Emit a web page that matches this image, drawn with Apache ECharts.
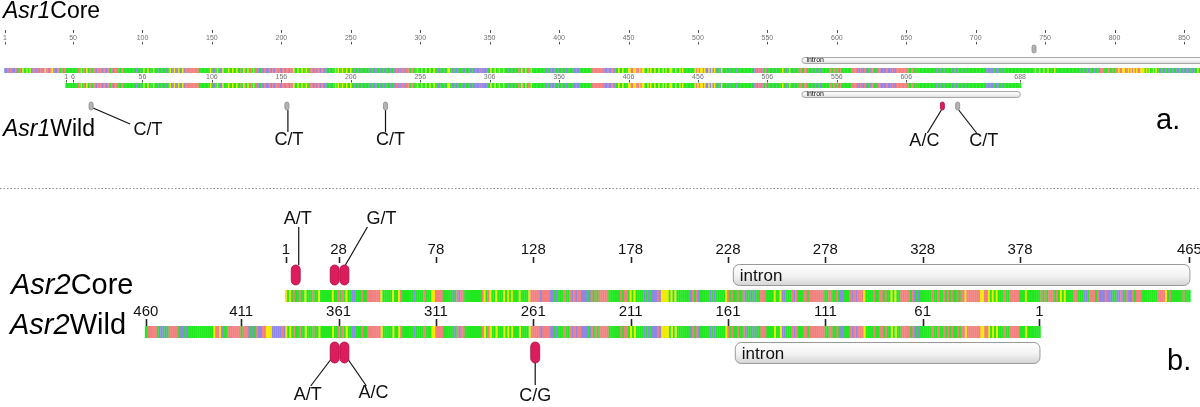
<!DOCTYPE html>
<html><head><meta charset="utf-8">
<script src="https://cdn.jsdelivr.net/npm/echarts@6/dist/echarts.min.js"></script>
<style>html,body{margin:0;padding:0;background:#fff}#c{width:1200px;height:407px}</style>
</head><body><div id="c"></div>
<script>
// ================= DATA =================
const baseOrder = ['A','C','G','T'];

// Asr1 core sequence (groups of 10, read left to right from the picture)
const asr1CoreSeq = `
CCACACCCAC TATGTTGTGT CACCACAACG AACAGACCAA TATATTTTTT
TTTATGTATG TAATAACAAA CAACAATACA AATTAATTTT TTTTCCTCTT
GTTGCTTGTT TCTTCTCTTG CCGCCGCTGC AAAAAAAAAA TTTTTTTTGT
CCTGTCCGTT TGTTGTTGTT ATGATGTATG TACCTCCACC CACACAAACC
AACAACAAGT TGTTGTTGTT AACACAACAA CTCTTCTTGT GTTGTTGTTG
TTCTTCTTCT TCTCTTCTCT CCTCCTTCCT CCACACAACA AATAATTGTT
GTTGTTGTTG TTCCTTCTTG GTCCTCCTTT CCTTTCCTCC CCCACCCCTC
GTTGTTGTTG TTTCTTCTTT ATGATGTATG TTTTTTTTTT CTTCCTCTTC
TTCTCCTTCT CCCCTTTTTT TTTAAAAAAA AACCACCAAC TTGTTGTTTG
GAAGGAAGAG GTTGTGTTGT TGTTGTGTTG GTTGTTGTGT TTTTTTTGAG
AGGAGCCGCG CGCTTCGTTC TTCTTTTCTT TTTTTTTTTC CACAACATAC
TTCTTCTTTT GTTCTGTTCT TTAATTAATT TCTTCTTCTT TTTTAATAAT
ATATTTTTTT AAAACCACCA CTTCAATCTA ACCCCACCCA CCAAAAAAAA
ATTAATTATT TTTTTTTTTT TCTTCTTCTT TTCTTCTTTT CTTCTTTTTT
TTTTTTTCCT CCTTCCTTCT TTTTTTTTTT TTTTTTTTTT TTGTTGTTGT
TGTTTTGTTT TTTTTTTTTT TTTTCTTCTT CCTTCCTTCA AATTAATTAT
AAGAAGGAAG AGAGAGAAGG GTGTGTTGTG TTCTTCTTCT TCTTCCTTCT
CCCTTCCTTG TT`.replace(/\s+/g, '');
const asr1WildAlignedCorePos = 45;   // core position aligned with wild position 1
const asr1WildLength = 688;
const asr1CoreTicks = [1,50,100,150,200,250,300,350,400,450,500,550,600,650,700,750,800,850];
const asr1WildTicks = [1,6,56,106,156,206,256,306,356,406,456,506,556,606,688];
const asr1CoreIntron = [[575, 870]];
const asr1WildIntron = [[531, 688]];
const asr1CoreSnps = [742];
const asr1WildSnps = [19, 160, 231, 632, 643];
const asr1WildSnpLabels = ['C/T','C/T','C/T','A/C','C/T'];
const asr1WildSnpHighlighted = [false,false,false,true,false];

// Asr2 core sequence (465 bases)
const asr2CoreSeq = [
  'GTGTA','TTATTG','TTTATTGTTTT','TTGTTA','TATGTT','CCT','TTATTA','AAAAAA','GTTTTT','G','TTGATT','TTTTCTTTTATTT','GGA','AA',
  'ATTTT','TCTAC','AAT','TTTTTTTT','AGTAG','TTGTT','TGTGT','GTTTGTTTTG','AAAAACAAAAC','CTCTT','TATTA','CACAA','CCCTC','ATATA',
  'AAAAT','TTTTT','ATAAT','GTGTTT','TCTCT','CCCAC','GGGGT','GTGTT','TTTTT','CATAC','TTTTT','CTCTTT','TTGAT','ATTAT',
  'TACTT','CTCTT','AAATT','TTGTT','GCCTT','TACAT','TTAAT','AAAAAA','AATTAATTAT','CCTTT','ACACA','AAGTT','TTATTA',
  'ATATT','GTGTT','AAAAA','TACTC','TTTTT','TATTA','TTATA','TATTAT','AAGAA','AAAAA','GGAAG','TGTGT','TTATT','AAAAA',
  'TTTGTT','TTTTT',
  'ATATA','AATAT','GTGTT','TTAAT','TTCCT','AAATA','CCCAC','CCTTC','CACTA','CCATA','AATTT','TTTTT','AAAAG','TATTT','TTTATTT'
].join('');
// Asr2 wild bases left of the core start (wild 460 .. 389, read left to right)
const asr2WildExtraSeq = ['T','AAAAA','TC','CTCTA','AAAA','TC','CTCT','TTTTTTTTTTTT','GAAG','CTTAA','AAAAA','TAAA','CTCT','ACCAA','GGG','CCCCC','AC'].join('');
const asr2WildAtCore1 = 388;   // wild position aligned with core position 1 (reverse strand)
const asr2WildLength = 460;
const asr2CoreTicks = [1,28,78,128,178,228,278,328,378,465];
const asr2WildTicks = [460,411,361,311,261,211,161,111,61,1];
const asr2CoreIntron = [[231, 465]];
const asr2WildIntron = [[1, 157]];
const asr2CoreSnps = [6, 26, 31];
const asr2CoreSnpLabels = ['A/T','','G/T'];
const asr2WildSnps = [363, 358, 260];
const asr2WildSnpLabels = ['A/T','A/C','C/G'];
const intronLabel = 'intron';

// ================= STYLE / LAYOUT =================
const FF = '"Liberation Sans", Arial, Helvetica, sans-serif';
const BASE_COLORS = ['#f47f7f', '#8f86ea', '#f2ea05', '#22e822'];
const SNP_RED = '#dc1c5c', SNP_RED_EDGE = '#a3123f';
const SNP_GREY = '#b4b4b4', SNP_GREY_EDGE = '#8a8a8a';

const A = { k: 1.3887, core1Px: 5 };      // section a: px per base, x of core position 1
const B = { k: 1.947,  core1Px: 286 };    // section b
const aMin = 1 - A.core1Px / A.k, aMax = aMin + 1200 / A.k;
const bMin = 1 - B.core1Px / B.k, bMax = bMin + 1200 / B.k;
const aWildShift = asr1WildAlignedCorePos - 1;
const bWildSum = asr2WildAtCore1 + 1;

// leader layout: [startDx, startY, endDx, endY, labelDx, labelY]
const asr1WildLeaders = [[2,108,39,124,57,130],[1,110,1,132,2,140],[0,110,0,132,5,140],[-1,110,-15,133,-18,141],[1,110,19,133,26,141]];
const asr2CoreLeaders = [[3,265,3,227,2,219], null, [1,265,23,227,37,219]];
const asr2WildLeaders = [[-2,357,-24,386,-27,395],[2,357,22,386,29,393],[0,362,0,385,0,396]];

// ================= BUILD =================
function seqSeries(xi, yi, positions, bases, y0, y1) {
  return {
    type: 'custom', xAxisIndex: xi, yAxisIndex: yi, silent: true, animation: false, progressive: 0,
    data: positions.map((p, i) => [p, baseOrder.indexOf(bases[i])]),
    renderItem(params, api) {
      const a = api.coord([api.value(0) - 0.5, y0]);
      const b = api.coord([api.value(0) + 0.5, y1]);
      return { type: 'rect', shape: { x: Math.min(a[0], b[0]), y: a[1], width: Math.abs(b[0] - a[0]) + 0.3, height: b[1] - a[1] },
        style: { fill: BASE_COLORS[api.value(1)] } };
    }
  };
}
function txt(x, y, text, font, fill, align) {
  return { type: 'text', style: { text, x, y, font, fill: fill || '#000', align: align || 'center', verticalAlign: 'middle', textAlign: align || 'center', textVerticalAlign: 'middle' } };
}
function rulerSeries(xi, yi, ticks, opt) {
  return {
    type: 'custom', xAxisIndex: xi, yAxisIndex: yi, silent: true, animation: false,
    data: ticks.map(t => [t, opt.labelY]),
    renderItem(params, api) {
      const v = api.value(0);
      const x = Math.round(api.coord([v, opt.labelY])[0]) + 0.5;
      const ch = [];
      opt.tickSpans.forEach(s => {
        const p0 = api.coord([v, s[0]]), p1 = api.coord([v, s[1]]);
        ch.push({ type: 'line', shape: { x1: x, y1: p0[1], x2: x, y2: p1[1] }, style: { stroke: opt.tickColor, lineWidth: opt.tickWidth } });
      });
      const lp = api.coord([v, opt.labelY]);
      ch.push(txt(lp[0] + (opt.labelDx || 0), lp[1], String(v), opt.font, opt.color));
      return { type: 'group', children: ch };
    }
  };
}
function intronSeries(xi, yi, ranges, opt) {
  return {
    type: 'custom', xAxisIndex: xi, yAxisIndex: yi, silent: true, animation: false,
    data: ranges.map(r => [r[0], r[1]]),
    renderItem(params, api) {
      const a = api.coord([api.value(0) - 0.5, opt.y0]), b = api.coord([api.value(1) + 0.5, opt.y1]);
      const x0 = Math.min(a[0], b[0]), x1 = Math.max(a[0], b[0]);
      return { type: 'group', children: [
        { type: 'rect', shape: { x: x0 + 0.5, y: a[1] + 0.5, width: x1 - x0 - 1, height: b[1] - a[1] - 1, r: opt.r },
          style: { fill: new echarts.graphic.LinearGradient(0, 0, 0, 1, [{ offset: 0, color: '#ffffff' }, { offset: 0.55, color: '#f2f2f2' }, { offset: 1, color: '#d2d2d2' }]),
            stroke: opt.stroke, lineWidth: 1 } },
        txt(x0 + opt.textDx, (a[1] + b[1]) / 2 + (opt.textDy || 0), intronLabel, opt.font, '#111', 'left')
      ] };
    }
  };
}
function snpSeries(xi, yi, positions, labels, flags, leaders, opt) {
  return {
    type: 'custom', xAxisIndex: xi, yAxisIndex: yi, silent: true, animation: false,
    data: positions.map((p, i) => [p, i]),
    renderItem(params, api) {
      const i = api.value(1), v = api.value(0);
      const c = api.coord([v, opt.y0]), c1 = api.coord([v, opt.y1]);
      const red = flags ? flags[i] : true;
      const ch = [{ type: 'rect', z2: 2, shape: { x: c[0] - opt.w / 2, y: c[1], width: opt.w, height: c1[1] - c[1], r: opt.w / 2 },
        style: { fill: red ? SNP_RED : SNP_GREY, stroke: red ? SNP_RED_EDGE : SNP_GREY_EDGE, lineWidth: 0.8 } }];
      const L = leaders && leaders[i];
      if (L && labels[i]) {
        const s = api.coord([v, L[1]]), e = api.coord([v, L[3]]), t = api.coord([v, L[5]]);
        ch.push({ type: 'line', z2: 1, shape: { x1: s[0] + L[0], y1: s[1], x2: e[0] + L[2], y2: e[1] }, style: { stroke: '#111', lineWidth: 1.2 } });
        ch.push(txt(t[0] + L[4], t[1], labels[i], opt.font, '#111'));
      }
      return { type: 'group', children: ch };
    }
  };
}

const asr1CorePos = Array.from(asr1CoreSeq, (_, i) => i + 1);
const asr1WildPos = Array.from({ length: asr1WildLength }, (_, i) => i + 1);
const asr1WildBases = asr1WildPos.map(w => asr1CoreSeq[w + aWildShift - 1]);
const asr2CorePos = Array.from(asr2CoreSeq, (_, i) => i + 1);
const asr2WildPos = Array.from({ length: asr2WildLength }, (_, i) => i + 1);
const asr2WildBases = asr2WildPos.map(w => w <= asr2WildAtCore1 ? asr2CoreSeq[bWildSum - w - 1] : asr2WildExtraSeq[asr2WildLength - w]);

const rich = (size) => ({ i: { fontStyle: 'italic', fontWeight: 'normal', fontSize: size, fontFamily: FF, color: '#000', lineHeight: size },
                          n: { fontStyle: 'normal', fontWeight: 'normal', fontSize: size, fontFamily: FF, color: '#000', lineHeight: size } });
const mkTitle = (txtv, left, top, size) => ({ text: txtv, left, top, padding: 0,
  textStyle: { fontWeight: 'normal', fontFamily: FF, fontSize: size, color: '#000', rich: rich(size) } });

const option = {
  animation: false,
  backgroundColor: '#ffffff',
  title: [
    mkTitle('{i|Asr1}{n|Core}', 3, 0, 23),
    mkTitle('{i|Asr1}{n|Wild}', 3, 118, 23),
    mkTitle('{i|Asr2}{n|Core}', 11, 271, 29),
    mkTitle('{i|Asr2}{n|Wild}', 10, 311, 29),
    mkTitle('{n|a.}', 1156, 106, 29),
    mkTitle('{n|b.}', 1167, 347, 29)
  ],
  graphic: [{ type: 'line', shape: { x1: 0, y1: 188.5, x2: 1200, y2: 188.5 }, style: { stroke: '#8a8a8a', lineWidth: 1, lineDash: [1.5, 2] }, silent: true }],
  grid: [
    { left: 0, top: 0, width: 1200, height: 188 },
    { left: 0, top: 188, width: 1200, height: 219 }
  ],
  xAxis: [
    { type: 'value', gridIndex: 0, min: aMin, max: aMax, show: false },
    { type: 'value', gridIndex: 0, min: aMin - aWildShift, max: aMax - aWildShift, show: false },
    { type: 'value', gridIndex: 1, min: bMin, max: bMax, show: false },
    { type: 'value', gridIndex: 1, min: bWildSum - bMax, max: bWildSum - bMin, inverse: true, show: false }
  ],
  yAxis: [
    { type: 'value', gridIndex: 0, min: 0, max: 188, inverse: true, show: false },
    { type: 'value', gridIndex: 1, min: 188, max: 407, inverse: true, show: false }
  ],
  series: [
    // ---- section a ----
    rulerSeries(0, 0, asr1CoreTicks, { labelY: 38, tickSpans: [[30, 33], [42, 44.5]], tickColor: '#555', tickWidth: 1, font: '7px ' + FF, color: '#707070' }),
    intronSeries(0, 0, asr1CoreIntron, { y0: 57, y1: 64, r: 3, stroke: '#a8a8a8', font: '7px ' + FF, textDx: 5 }),
    seqSeries(0, 0, asr1CorePos, asr1CoreSeq, 68, 73),
    rulerSeries(1, 0, asr1WildTicks, { labelY: 77, tickSpans: [[80, 82.5]], tickColor: '#555', tickWidth: 1, font: '7px ' + FF, color: '#707070' }),
    seqSeries(1, 0, asr1WildPos, asr1WildBases, 83, 88),
    intronSeries(1, 0, asr1WildIntron, { y0: 91, y1: 98, r: 3, stroke: '#a8a8a8', font: '7px ' + FF, textDx: 5 }),
    snpSeries(0, 0, asr1CoreSnps, [''], [false], null, { y0: 45, y1: 53, w: 4, font: '18px ' + FF }),
    snpSeries(1, 0, asr1WildSnps, asr1WildSnpLabels, asr1WildSnpHighlighted, asr1WildLeaders, { y0: 102, y1: 110, w: 4, font: '18px ' + FF }),
    // ---- section b ----
    rulerSeries(2, 1, asr2CoreTicks, { labelY: 250, tickSpans: [[257, 263]], tickColor: '#222', tickWidth: 1.6, font: '15px ' + FF, color: '#111' }),
    intronSeries(2, 1, asr2CoreIntron, { y0: 264, y1: 286, r: 6, stroke: '#9a9a9a', font: '17px ' + FF, textDx: 7, textDy: 1 }),
    seqSeries(2, 1, asr2CorePos, asr2CoreSeq, 290, 302),
    rulerSeries(3, 1, asr2WildTicks, { labelY: 312, tickSpans: [[319, 326]], tickColor: '#222', tickWidth: 1.6, font: '15px ' + FF, color: '#111' }),
    seqSeries(3, 1, asr2WildPos, asr2WildBases, 326, 338),
    intronSeries(3, 1, asr2WildIntron, { y0: 342, y1: 364, r: 6, stroke: '#9a9a9a', font: '17px ' + FF, textDx: 7, textDy: 1 }),
    snpSeries(2, 1, asr2CoreSnps, asr2CoreSnpLabels, null, asr2CoreLeaders, { y0: 265, y1: 285, w: 9, font: '18px ' + FF }),
    snpSeries(3, 1, asr2WildSnps, asr2WildSnpLabels, null, asr2WildLeaders, { y0: 342, y1: 363, w: 9, font: '18px ' + FF })
  ]
};
const chart = echarts.init(document.getElementById('c'), null, { renderer: 'canvas', width: 1200, height: 407 });
chart.setOption(option);
</script></body></html>
